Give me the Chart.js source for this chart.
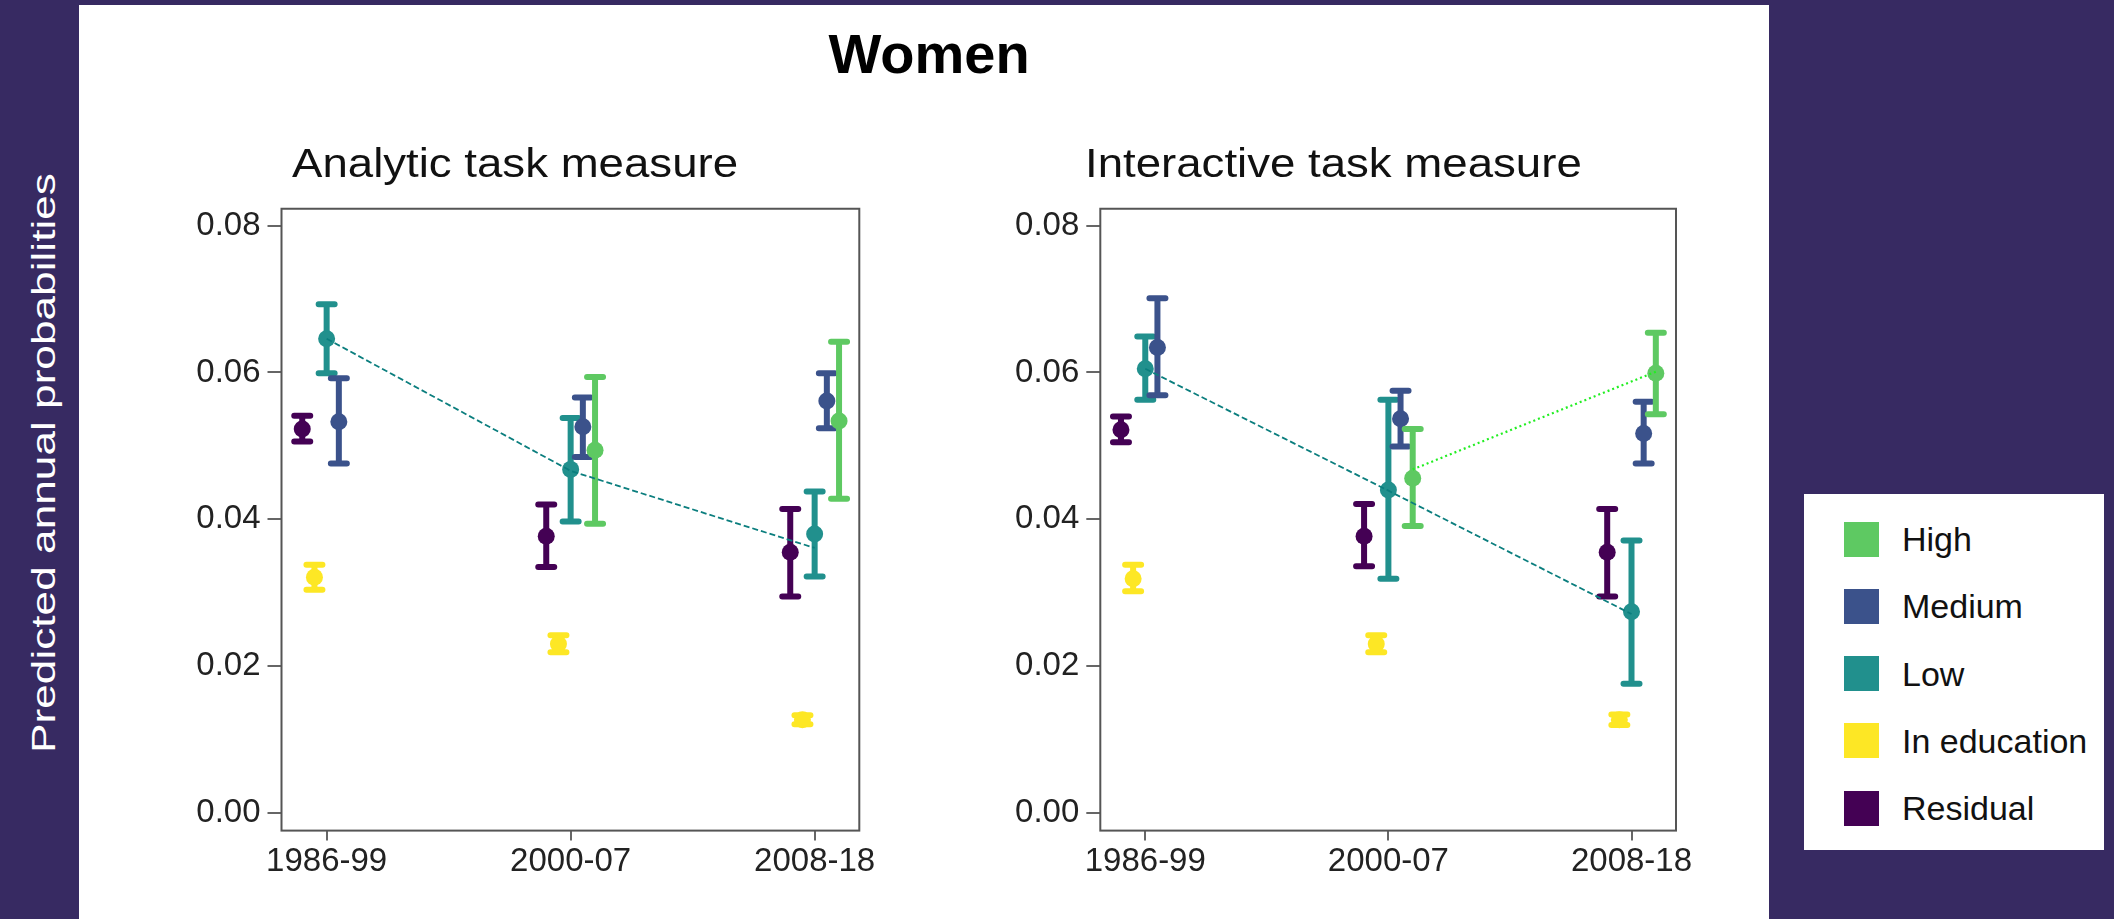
<!DOCTYPE html>
<html>
<head>
<meta charset="utf-8">
<script src="https://cdn.jsdelivr.net/npm/chart.js@4.4.1/dist/chart.umd.min.js"></script>
<style>
  html, body { margin: 0; padding: 0; }
  body { width: 2114px; height: 919px; background: #372a62; position: relative; overflow: hidden;
         font-family: "Liberation Sans", Arial, sans-serif; }
  #panel { position: absolute; left: 79px; top: 5px; width: 1690px; height: 914px; background: #ffffff; }
  #mainTitle { position: absolute; left: 729px; width: 400px; top: 25.6px; text-align: center;
               font-weight: bold; font-size: 56px; line-height: 56px; color: #000; }
  #yTitle { position: absolute; left: 43px; top: 463px; white-space: nowrap; color: #ffffff;
            font-size: 34px; line-height: 34px;
            transform: translate(-50%, -50%) rotate(-90deg) scaleX(1.3); }
  .wrap { position: absolute; top: 100px; width: 730px; height: 810px; }
  #wrapA { left: 150px; }
  #wrapB { left: 970px; }
  #legend { position: absolute; left: 1804px; top: 494px; width: 300px; height: 356px; background: #ffffff; }
  .lg-sw { position: absolute; left: 40px; width: 35px; height: 35px; }
  .lg-tx { position: absolute; left: 98px; font-size: 34px; line-height: 34px; color: #111; white-space: nowrap; }
</style>
</head>
<body>
<div id="panel"></div>
<div id="mainTitle">Women</div>
<div id="yTitle">Predicted annual probabilities</div>
<div class="wrap" id="wrapA"><canvas id="chartA" width="730" height="810"></canvas></div>
<div class="wrap" id="wrapB"><canvas id="chartB" width="730" height="810"></canvas></div>
<div id="legend"></div>
<script>
// ---------------- DATA ----------------
const periods = ['1986-99', '2000-07', '2008-18'];
const yTicks = [0.00, 0.02, 0.04, 0.06, 0.08];
const seriesNames = ['High', 'Medium', 'Low', 'In education', 'Residual'];
const seriesColors = ['#5ec962', '#3b528b', '#21908d', '#fde725', '#440154'];

// Analytic task measure
const analyticHigh      = [null,   0.0494, 0.0534];
const analyticHighLo    = [null,   0.0394, 0.0428];
const analyticHighHi    = [null,   0.0594, 0.0642];
const analyticMedium    = [0.0533, 0.0526, 0.0561];
const analyticMediumLo  = [0.0476, 0.0485, 0.0524];
const analyticMediumHi  = [0.0592, 0.0566, 0.0599];
const analyticLow       = [0.0646, 0.0468, 0.0380];
const analyticLowLo     = [0.0599, 0.0397, 0.0322];
const analyticLowHi     = [0.0693, 0.0538, 0.0438];
const analyticEdu       = [0.0321, 0.0230, 0.0127];
const analyticEduLo     = [0.0304, 0.0219, 0.0121];
const analyticEduHi     = [0.0338, 0.0242, 0.0133];
const analyticResid     = [0.0523, 0.0377, 0.0355];
const analyticResidLo   = [0.0506, 0.0335, 0.0295];
const analyticResidHi   = [0.0541, 0.0420, 0.0414];
const analyticLowTrend  = [0.0646, 0.0466, 0.0361];

// Interactive task measure
const interHigh      = [null,   0.0456, 0.0599];
const interHighLo    = [null,   0.0391, 0.0543];
const interHighHi    = [null,   0.0523, 0.0654];
const interMedium    = [0.0634, 0.0537, 0.0517];
const interMediumLo  = [0.0569, 0.0499, 0.0476];
const interMediumHi  = [0.0701, 0.0575, 0.0560];
const interLow       = [0.0605, 0.0440, 0.0274];
const interLowLo     = [0.0563, 0.0319, 0.0176];
const interLowHi     = [0.0649, 0.0563, 0.0371];
const interEdu       = [0.0319, 0.0230, 0.0127];
const interEduLo     = [0.0302, 0.0219, 0.0120];
const interEduHi     = [0.0338, 0.0242, 0.0134];
const interResid     = [0.0522, 0.0377, 0.0355];
const interResidLo   = [0.0505, 0.0336, 0.0295];
const interResidHi   = [0.0540, 0.0421, 0.0414];
const interLowTrend  = [0.0605, 0.0439, 0.0271];
const interHighTrend = [null,   0.0468, 0.0601];

// dodge offset of each group around its period (High, Medium, Low, In education, Residual)
const dodge = [0.10, 0.05, 0.00, -0.05, -0.10];

// ---------------- HELPERS ----------------
Chart.defaults.font.family = '"Liberation Sans", Arial, sans-serif';

function pts(est, lo, hi, off) {
  const out = [];
  est.forEach((v, i) => { if (v !== null) out.push({ x: i + 1 + off, y: v, lo: lo[i], hi: hi[i] }); });
  return out;
}
function trendPts(vals, off) {
  const out = [];
  vals.forEach((v, i) => { if (v !== null) out.push({ x: i + 1 + off, y: v }); });
  return out;
}

const errorBarPlugin = {
  id: 'errorBars',
  beforeDatasetDraw(chart, args) {
    const ds = chart.data.datasets[args.index];
    if (!ds.isErr) return;
    const ctx = chart.ctx, xs = chart.scales.x, ys = chart.scales.y;
    ctx.save();
    ctx.strokeStyle = ds.backgroundColor;
    ctx.lineWidth = 6;
    ctx.lineCap = 'round';
    ds.data.forEach(p => {
      const px = xs.getPixelForValue(p.x);
      const yl = ys.getPixelForValue(p.lo), yh = ys.getPixelForValue(p.hi);
      ctx.beginPath();
      ctx.moveTo(px, yl); ctx.lineTo(px, yh);
      ctx.moveTo(px - 8, yl); ctx.lineTo(px + 8, yl);
      ctx.moveTo(px - 8, yh); ctx.lineTo(px + 8, yh);
      ctx.stroke();
    });
    ctx.restore();
  }
};

const boxPlugin = {
  id: 'boxFrame',
  afterDatasetsDraw(chart) {
    const a = chart.chartArea, ctx = chart.ctx;
    ctx.save();
    ctx.strokeStyle = '#555555';
    ctx.lineWidth = 2;
    ctx.strokeRect(a.left, a.top, a.right - a.left, a.bottom - a.top);
    ctx.restore();
  }
};

const subtitlePlugin = {
  id: 'panelTitle',
  afterDraw(chart, args, opts) {
    const ctx = chart.ctx;
    ctx.save();
    ctx.fillStyle = '#111111';
    ctx.font = opts.size + 'px "Liberation Sans", Arial, sans-serif';
    ctx.textBaseline = 'alphabetic';
    ctx.textAlign = 'left';
    ctx.translate(opts.x, opts.y);
    ctx.scale(opts.stretch, 1);
    ctx.fillText(opts.text, 0, 0);
    ctx.restore();
  }
};

function makePanel(canvasId, title, groups, trends, geom) {
  const datasets = [];
  trends.forEach(t => datasets.push({
    type: 'line', data: trendPts(t.vals, t.off), borderColor: t.color, borderWidth: t.width,
    borderDash: t.dash, pointRadius: 0, fill: false, tension: 0, order: -1, spanGaps: true
  }));
  groups.forEach((g, k) => datasets.push({
    type: 'scatter', label: seriesNames[k], isErr: true,
    data: pts(g[0], g[1], g[2], dodge[k]),
    backgroundColor: seriesColors[k], borderColor: seriesColors[k],
    pointRadius: 8.5, pointBorderWidth: 0, pointHoverRadius: 8.5, order: k
  }));

  return new Chart(document.getElementById(canvasId), {
    type: 'scatter',
    data: { datasets },
    plugins: [errorBarPlugin, boxPlugin, subtitlePlugin],
    options: {
      responsive: false,
      animation: false,
      events: [],
      layout: { padding: { left: 0, top: geom.top, right: geom.right, bottom: 0 } },
      plugins: {
        legend: { display: false },
        tooltip: { enabled: false },
        title: { display: false },
        panelTitle: { text: title, x: geom.tx, y: geom.ty, size: 40, stretch: 1.14 }
      },
      scales: {
        x: {
          type: 'linear', min: 0.815, max: 3.183,
          afterBuildTicks: s => { s.ticks = periods.map((p, i) => ({ value: i + 1 })); },
          afterFit: s => { s.height = geom.xh; s.paddingLeft = 0; s.paddingRight = 0; },
          ticks: { autoSkip: false, maxRotation: 0, padding: 2, color: '#222222',
                   font: { size: 33 }, callback: v => periods[v - 1] },
          grid: { drawOnChartArea: false, drawTicks: true, tickLength: 10, color: '#666666', lineWidth: 2 },
          border: { display: false }
        },
        y: {
          type: 'linear', min: -0.0024, max: 0.0823,
          afterBuildTicks: s => { s.ticks = yTicks.map(v => ({ value: v })); },
          afterFit: s => { s.width = geom.yw; s.paddingTop = 0; s.paddingBottom = 0; },
          ticks: { padding: 7, color: '#222222', font: { size: 33 }, callback: v => v.toFixed(2) },
          grid: { drawOnChartArea: false, drawTicks: true, tickLength: 14, color: '#666666', lineWidth: 2 },
          border: { display: false }
        }
      }
    }
  });
}

makePanel('chartA', 'Analytic task measure',
  [[analyticHigh, analyticHighLo, analyticHighHi],
   [analyticMedium, analyticMediumLo, analyticMediumHi],
   [analyticLow, analyticLowLo, analyticLowHi],
   [analyticEdu, analyticEduLo, analyticEduHi],
   [analyticResid, analyticResidLo, analyticResidHi]],
  [{ vals: analyticLowTrend, off: 0, color: '#0b7e7e', width: 1.8, dash: [6, 3] }],
  { top: 108.75, right: 20.7, yw: 131.5, xh: 79.4, tx: 142, ty: 77 });

makePanel('chartB', 'Interactive task measure',
  [[interHigh, interHighLo, interHighHi],
   [interMedium, interMediumLo, interMediumHi],
   [interLow, interLowLo, interLowHi],
   [interEdu, interEduLo, interEduHi],
   [interResid, interResidLo, interResidHi]],
  [{ vals: interLowTrend, off: 0, color: '#0b7e7e', width: 1.8, dash: [6, 3] },
   { vals: interHighTrend, off: 0.10, color: '#22ee22', width: 2.2, dash: [2, 3] }],
  { top: 108.75, right: 24, yw: 130.3, xh: 79.4, tx: 115, ty: 77 });

// ---------------- LEGEND ----------------
const legend = document.getElementById('legend');
seriesNames.forEach((name, i) => {
  const cy = 45 + 67.3 * i;
  const sw = document.createElement('div');
  sw.className = 'lg-sw';
  sw.style.top = (cy - 17.5) + 'px';
  sw.style.background = seriesColors[i];
  legend.appendChild(sw);
  const tx = document.createElement('div');
  tx.className = 'lg-tx';
  tx.style.top = (cy - 17) + 'px';
  tx.textContent = name;
  legend.appendChild(tx);
});
</script>
</body>
</html>
